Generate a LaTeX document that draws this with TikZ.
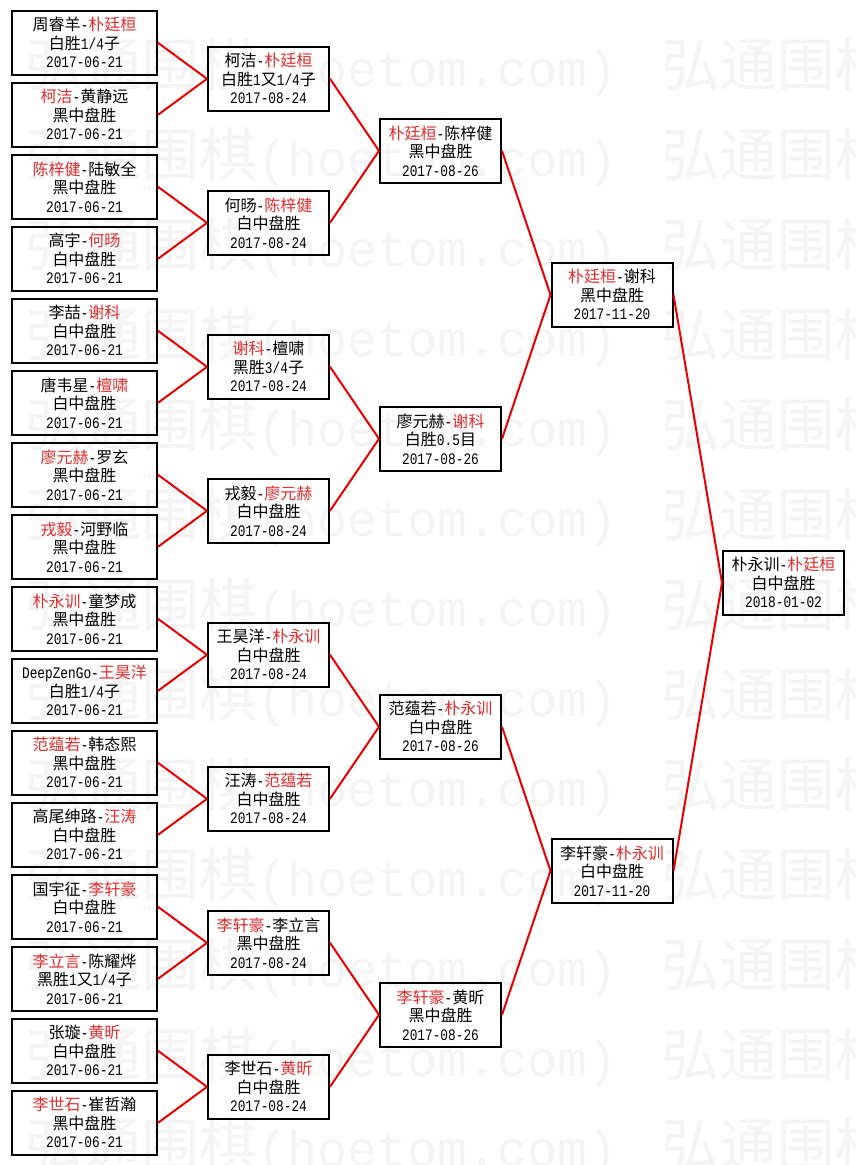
\documentclass[tikz,border=0pt]{standalone}
\usepackage{fontspec}
\setmainfont{Noto Sans CJK SC}
\newfontfamily\wmmono{Liberation Mono}
\newfontfamily\wmcjk{Noto Sans CJK SC}
\newfontfamily\monof{Liberation Mono}[Scale=1.0,FakeStretch=0.8]
\definecolor{lnred}{RGB}{232,0,0}
\definecolor{txred}{RGB}{222,45,45}
\definecolor{wmgray}{RGB}{244,244,244}
\newcommand{\rn}[1]{\textcolor{txred}{#1}}
\newcommand{\mo}[1]{{\monof #1}}
\begin{document}
\begin{tikzpicture}[x=1pt,y=-1pt,
  match/.style={draw=black,line width=2pt,minimum height=64pt,inner sep=0pt,align=center,font=\fontsize{16}{18.5}\selectfont},
  wide/.style={match,minimum width=145pt},
  narrow/.style={match,minimum width=121pt},
  link/.style={draw=lnred,line width=2pt},
  wm/.style={anchor=west,inner sep=0pt,text=wmgray}]
\useasboundingbox[fill=white] (0,0) rectangle (855,1165);
% watermark
\begin{scope}
\clip (0,0) rectangle (855,1165);
\foreach \k in {0,...,12}{
  \node[wm] (wm\k) at (25,{67.5+90*\k}) {\wmcjk\fontsize{58}{58}\selectfont 弘通围棋{\wmmono\fontsize{50}{50}\selectfont(hoetom.com) }\hspace{14pt}弘通围棋};
}
\end{scope}
% round 1
\node[wide] (a1)  at (84.5,{42.8+72*0})  {周睿羊\mo{-}\rn{朴廷桓}\\白胜\mo{1/4}子\\\mo{2017-06-21}};
\node[wide] (a2)  at (84.5,{42.8+72*1})  {\rn{柯洁}\mo{-}黄静远\\黑中盘胜\\\mo{2017-06-21}};
\node[wide] (a3)  at (84.5,{42.8+72*2})  {\rn{陈梓健}\mo{-}陆敏全\\黑中盘胜\\\mo{2017-06-21}};
\node[wide] (a4)  at (84.5,{42.8+72*3})  {高宇\mo{-}\rn{何旸}\\白中盘胜\\\mo{2017-06-21}};
\node[wide] (a5)  at (84.5,{42.8+72*4})  {李喆\mo{-}\rn{谢科}\\白中盘胜\\\mo{2017-06-21}};
\node[wide] (a6)  at (84.5,{42.8+72*5})  {唐韦星\mo{-}\rn{檀啸}\\白中盘胜\\\mo{2017-06-21}};
\node[wide] (a7)  at (84.5,{42.8+72*6})  {\rn{廖元赫}\mo{-}罗玄\\黑中盘胜\\\mo{2017-06-21}};
\node[wide] (a8)  at (84.5,{42.8+72*7})  {\rn{戎毅}\mo{-}河野临\\黑中盘胜\\\mo{2017-06-21}};
\node[wide] (a9)  at (84.5,{42.8+72*8})  {\rn{朴永训}\mo{-}童梦成\\黑中盘胜\\\mo{2017-06-21}};
\node[wide] (a10) at (84.5,{42.8+72*9})  {\mo{DeepZenGo-}\rn{王昊洋}\\白胜\mo{1/4}子\\\mo{2017-06-21}};
\node[wide] (a11) at (84.5,{42.8+72*10}) {\rn{范蕴若}\mo{-}韩态熙\\黑中盘胜\\\mo{2017-06-21}};
\node[wide] (a12) at (84.5,{42.8+72*11}) {高尾绅路\mo{-}\rn{汪涛}\\白中盘胜\\\mo{2017-06-21}};
\node[wide] (a13) at (84.5,{42.8+72*12}) {国宇征\mo{-}\rn{李轩豪}\\白中盘胜\\\mo{2017-06-21}};
\node[wide] (a14) at (84.5,{42.8+72*13}) {\rn{李立言}\mo{-}陈耀烨\\黑胜\mo{1}又\mo{1/4}子\\\mo{2017-06-21}};
\node[wide] (a15) at (84.5,{42.8+72*14}) {张璇\mo{-}\rn{黄昕}\\白中盘胜\\\mo{2017-06-21}};
\node[wide] (a16) at (84.5,{42.8+72*15}) {\rn{李世石}\mo{-}崔哲瀚\\黑中盘胜\\\mo{2017-06-21}};
% round 2
\node[narrow] (b1) at (268.5,{78.8+144*0}) {柯洁\mo{-}\rn{朴廷桓}\\白胜\mo{1}又\mo{1/4}子\\\mo{2017-08-24}};
\node[narrow] (b2) at (268.5,{78.8+144*1}) {何旸\mo{-}\rn{陈梓健}\\白中盘胜\\\mo{2017-08-24}};
\node[narrow] (b3) at (268.5,{78.8+144*2}) {\rn{谢科}\mo{-}檀啸\\黑胜\mo{3/4}子\\\mo{2017-08-24}};
\node[narrow] (b4) at (268.5,{78.8+144*3}) {戎毅\mo{-}\rn{廖元赫}\\白中盘胜\\\mo{2017-08-24}};
\node[narrow] (b5) at (268.5,{78.8+144*4}) {王昊洋\mo{-}\rn{朴永训}\\白中盘胜\\\mo{2017-08-24}};
\node[narrow] (b6) at (268.5,{78.8+144*5}) {汪涛\mo{-}\rn{范蕴若}\\白中盘胜\\\mo{2017-08-24}};
\node[narrow] (b7) at (268.5,{78.8+144*6}) {\rn{李轩豪}\mo{-}李立言\\黑中盘胜\\\mo{2017-08-24}};
\node[narrow] (b8) at (268.5,{78.8+144*7}) {李世石\mo{-}\rn{黄昕}\\白中盘胜\\\mo{2017-08-24}};
% round 3
\node[narrow] (c1) at (440.5,{150.8+288*0}) {\rn{朴廷桓}\mo{-}陈梓健\\黑中盘胜\\\mo{2017-08-26}};
\node[narrow] (c2) at (440.5,{150.8+288*1}) {廖元赫\mo{-}\rn{谢科}\\白胜\mo{0.5}目\\\mo{2017-08-26}};
\node[narrow] (c3) at (440.5,{150.8+288*2}) {范蕴若\mo{-}\rn{朴永训}\\白中盘胜\\\mo{2017-08-26}};
\node[narrow] (c4) at (440.5,{150.8+288*3}) {\rn{李轩豪}\mo{-}黄昕\\黑中盘胜\\\mo{2017-08-26}};
% round 4
\node[narrow] (d1) at (612,{294.8+576*0}) {\rn{朴廷桓}\mo{-}谢科\\黑中盘胜\\\mo{2017-11-20}};
\node[narrow] (d2) at (612,{294.8+576*1}) {李轩豪\mo{-}\rn{朴永训}\\白中盘胜\\\mo{2017-11-20}};
% final
\node[narrow] (e) at (783.5,582.8) {朴永训\mo{-}\rn{朴廷桓}\\白中盘胜\\\mo{2018-01-02}};
% connectors
\foreach \c/\p in {a1/b1,a2/b1,a3/b2,a4/b2,a5/b3,a6/b3,a7/b4,a8/b4,a9/b5,a10/b5,a11/b6,a12/b6,a13/b7,a14/b7,a15/b8,a16/b8,
  b1/c1,b2/c1,b3/c2,b4/c2,b5/c3,b6/c3,b7/c4,b8/c4,c1/d1,c2/d1,c3/d2,c4/d2,d1/e,d2/e}{
  \draw[link] (\c.east) -- (\p.west);
}
\end{tikzpicture}
\end{document}
